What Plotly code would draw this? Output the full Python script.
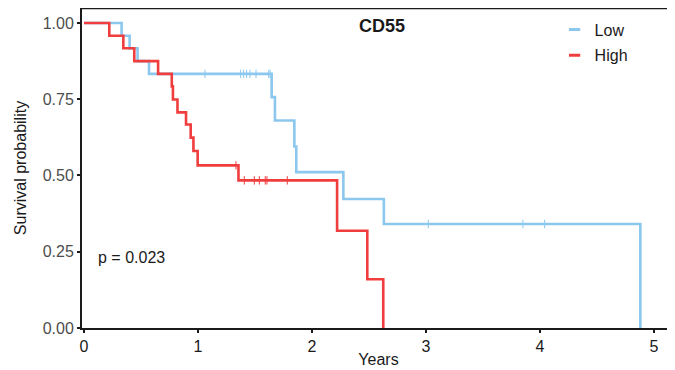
import plotly.graph_objects as go
import numpy as np

# ---- data ----
low_time = [0, 0.33, 0.40, 0.47, 0.57, 1.646, 1.675, 1.845, 1.862, 2.275, 2.63, 4.88]
low_surv = [1.0, 0.958, 0.917, 0.875, 0.833, 0.757, 0.680, 0.595, 0.511, 0.423, 0.341, 0.0]
low_censor = [1.061, 1.374, 1.40, 1.427, 1.456, 1.509, 1.62, 1.632, 3.02, 3.85, 4.04]

high_time = [0, 0.222, 0.345, 0.441, 0.65, 0.77, 0.78, 0.82, 0.895, 0.936, 0.96, 0.997, 1.355, 2.22, 2.485, 2.625]
high_surv = [1.0, 0.958, 0.917, 0.875, 0.833, 0.792, 0.749, 0.707, 0.667, 0.624, 0.58, 0.533, 0.484, 0.319, 0.16, 0.0]
high_censor = [1.333, 1.406, 1.494, 1.538, 1.59, 1.605, 1.783]

groups = ["Low", "High"]
x_ticks = [0, 1, 2, 3, 4, 5]
y_ticks = [0, 0.25, 0.5, 0.75, 1.0]
y_ticklabels = ["0.00", "0.25", "0.50", "0.75", "1.00"]
title_text = "CD55"
pval_text = "p = 0.023"

LOW_C = "#8CC7EE"
HIGH_C = "#F03E3E"
FONT = "Liberation Sans, Arial, sans-serif"


def surv_at(times, survs, t):
    idx = np.searchsorted(np.array(times), t, side="right") - 1
    return survs[idx]


fig = go.Figure()
for name, tt, ss, cc, col in [("Low", low_time, low_surv, low_censor, LOW_C),
                              ("High", high_time, high_surv, high_censor, HIGH_C)]:
    fig.add_trace(go.Scatter(x=tt, y=ss, mode="lines", line=dict(color=col, width=2.6, shape="hv"),
                             showlegend=False, hoverinfo="skip"))
    fig.add_trace(go.Scatter(x=cc, y=[surv_at(tt, ss, c) for c in cc], mode="markers",
                             marker=dict(symbol="line-ns", size=6, line=dict(color=col, width=1)),
                             showlegend=False, hoverinfo="skip"))

# legend entries
for name, col in zip(groups, [LOW_C, HIGH_C]):
    fig.add_trace(go.Scatter(x=[None], y=[None], mode="markers", name=name, legendgroup=name,
                             marker=dict(symbol="line-ew", size=8, line=dict(color=col, width=3))))

# page body adds an 8px offset, so the figure is 8px smaller and margins compensate
fig.update_layout(
    width=667, height=362,
    margin=dict(l=74, r=0, t=0, b=42, autoexpand=False),
    paper_bgcolor="white", plot_bgcolor="white",
    font=dict(family=FONT, color="#1a1a1a"),
    showlegend=True,
    legend=dict(x=0.797, y=0.986, xanchor="left", yanchor="top", bgcolor="rgba(0,0,0,0)",
                font=dict(size=16, color="#1a1a1a"), traceorder="grouped", tracegroupgap=2,
                itemwidth=30),
    xaxis=dict(range=[-0.0175, 5.184], tickvals=x_ticks, ticktext=[str(v) for v in x_ticks],
               showgrid=False, zeroline=False, showline=True, linecolor="#1a1a1a", linewidth=2,
               ticks="outside", ticklen=3, tickwidth=1.5, tickcolor="#1a1a1a", automargin=False,
               tickfont=dict(size=16, color="#1a1a1a"),
               title=dict(text="Years", font=dict(size=16, color="#1a1a1a"), standoff=0)),
    yaxis=dict(range=[0, 1.049], tickvals=y_ticks, ticktext=y_ticklabels,
               showgrid=False, zeroline=False, showline=True, linecolor="#1a1a1a", linewidth=2,
               ticks="outside", ticklen=3, tickwidth=1.5, tickcolor="#1a1a1a", automargin=False,
               tickfont=dict(size=16, color="#4D4D4D"),
               title=dict(text="Survival probability", font=dict(size=16, color="#1a1a1a"), standoff=12)),
    shapes=[dict(type="line", xref="paper", yref="paper", x0=0, x1=1, y0=1, y1=1,
                 line=dict(color="#1a1a1a", width=2.5))],
    annotations=[
        dict(text="<b>" + title_text + "</b>", xref="paper", yref="paper", x=0.506, y=0.944,
             showarrow=False, font=dict(size=18, color="#1a1a1a"), xanchor="center", yanchor="middle"),
        dict(text=pval_text, xref="x", yref="y", x=0.105, y=0.23, showarrow=False,
             font=dict(size=16, color="#1a1a1a"), xanchor="left", yanchor="middle"),
    ],
)

fig.write_html("out.html")
